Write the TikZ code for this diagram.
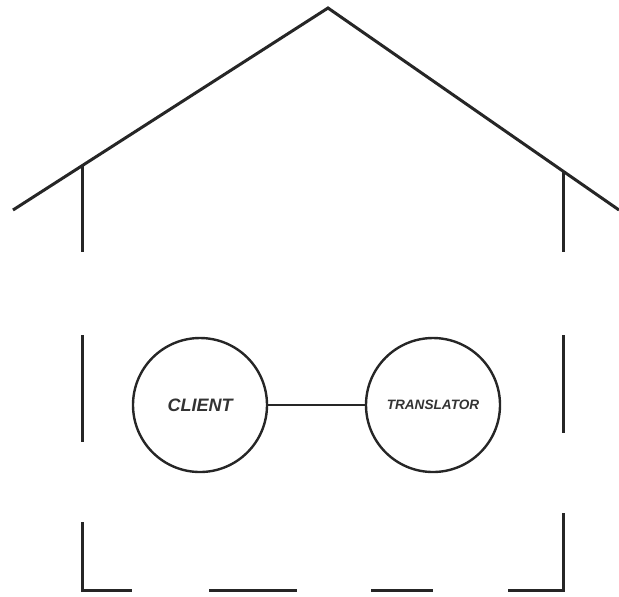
\documentclass[tikz,border=0pt]{standalone}
\usepackage{fontspec}
\setsansfont{Liberation Sans}
\usepackage{tikz}
\usetikzlibrary{positioning}
\tikzstyle{wallline} = [line width=1.5pt, color=black!85]
\tikzstyle{rolecircle} = [circle, draw=black!85, line width=1.2pt, minimum size=67pt,
  inner sep=0pt, font=\sffamily\bfseries\itshape, text=black!80]
\tikzstyle{link} = [line width=0.6pt, color=black!85]

\begin{document}
\begin{tikzpicture}[x=0.5pt, y=-0.5pt]
  \useasboundingbox (0,0) rectangle (619,596);

  % Roof
  \coordinate (roofL) at (13,210);
  \coordinate (apex) at (328,8);
  \coordinate (roofR) at (619,210);
  \draw[wallline, line join=miter] (roofL) -- (apex) -- (roofR);

  % Left wall (broken)
  \draw[wallline] (82,165) -- (82,252);
  \draw[wallline] (82,335) -- (82,442);
  \draw[wallline] (82,522) -- (82,590) -- (132,590);

  % Floor (broken)
  \draw[wallline] (209,590) -- (297,590);
  \draw[wallline] (371,590) -- (433,590);

  % Right wall (broken)
  \draw[wallline] (508,590) -- (563,590) -- (563,513);
  \draw[wallline] (563,335) -- (563,433);
  \draw[wallline] (563,172) -- (563,252);

  % Roles
  \node[rolecircle, font=\sffamily\bfseries\itshape\fontsize{9}{10}\selectfont] (client) at (200,405) {CLIENT};
  \node[rolecircle, font=\sffamily\bfseries\itshape\fontsize{6.8}{8}\selectfont] (translator) at (433,405) {TRANSLATOR};

  % Connection
  \draw[link] (client) -- (translator);
\end{tikzpicture}
\end{document}
